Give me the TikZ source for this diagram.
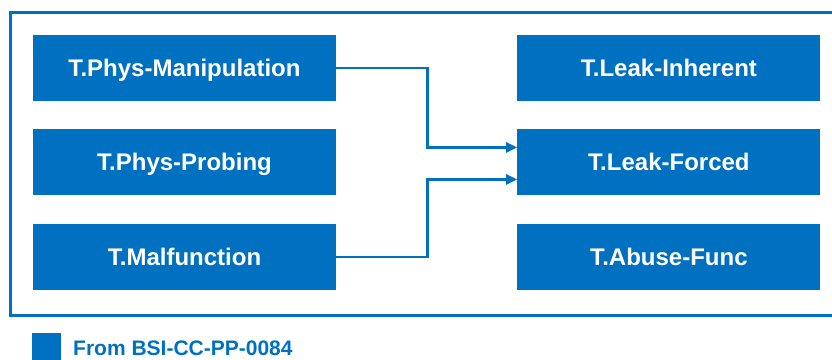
\documentclass[tikz,border=0pt]{standalone}
\usepackage{fontspec}
\setmainfont{Liberation Sans}
\usetikzlibrary{positioning}
\usetikzlibrary{arrows.meta}
\definecolor{Threat}{HTML}{0070C0}
\tikzset{
  % threat boxes, filled blue with white bold text
  threat/.style={
    fill=Threat,draw=none,text=white,
    minimum width=303pt,minimum height=66pt,inner sep=0pt,
    text height=17pt,text depth=0pt,
    font=\fontsize{24}{28}\selectfont\bfseries,
  },
  % connectors between threats
  flow/.style={draw=Threat,line width=2.6pt,-{Triangle[length=11pt,width=10pt]}},
  frame/.style={draw=Threat,line width=3pt},
  node distance=28pt and 181pt,
}
\begin{document}
\begin{tikzpicture}[x=1pt,y=1pt]
  \useasboundingbox (0,0) rectangle (832,-359);
  \draw[frame] (10,-12) rectangle (845,-315);
  % left column
  \node[threat] (manip) at (184.5,-68) {T.Phys-Manipulation};
  \node[threat,below=of manip] (probing) {T.Phys-Probing};
  \node[threat,below=of probing] (malfunc) {T.Malfunction};
  % right column
  \node[threat,right=of manip] (inherent) {T.Leak-Inherent};
  \node[threat,below=of inherent] (forced) {T.Leak-Forced};
  \node[threat,below=of forced] (abuse) {T.Abuse-Func};
  % arrows
  \draw[flow] (manip.east) -- ++(91,0) |- ([yshift=15pt]forced.west);
  \draw[flow] (malfunc.east) -- ++(91,0) |- ([yshift=-17pt]forced.west);
  % legend
  \node[fill=Threat,minimum size=29pt,inner sep=0pt,anchor=north west] (key) at (32,-333) {};
  \node[anchor=base west,text=Threat,font=\fontsize{21}{24}\selectfont\bfseries,inner sep=0pt]
    (keytext) at (73,-355) {From BSI-CC-PP-0084};
\end{tikzpicture}
\end{document}
